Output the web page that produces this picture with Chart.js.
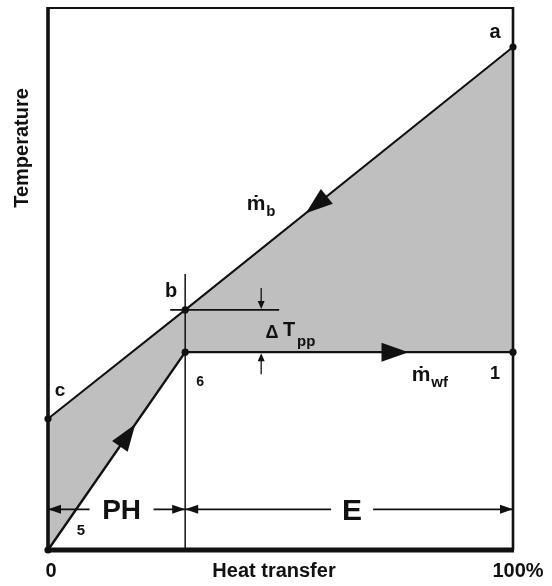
<!DOCTYPE html>
<html>
<head>
<meta charset="utf-8">
<script src="https://cdn.jsdelivr.net/npm/chart.js@4/dist/chart.umd.min.js"></script>
<style>
  html, body { margin: 0; padding: 0; background: #ffffff; }
  canvas { display: block; }
</style>
</head>
<body>
<canvas id="tq" width="552" height="586"></canvas>
<script>
// Heat-transfer share (%) at the three state points of each stream
const heatShare = [0, 29.5, 100];
// Heat-source stream temperatures: c, b (pinch), a
const hotTemp = [24.2, 44.3, 92.8];
const hotNames = ['c', 'b', 'a'];
// Working-fluid temperatures: 5, 6, 1
const coldTemp = [0, 36.5, 36.5];
const coldNames = ['5', '6', '1'];
// Axis end labels
const axisTicks = ['0', '100%'];
// Heat-exchanger sections: preheater and evaporator
const zoneNames = ['PH', 'E'];

const FONT = '"Liberation Sans", Arial, Helvetica, sans-serif';
const INK = '#111111';

function pts(xs, ys) { return xs.map((x, i) => ({ x: x, y: ys[i] })); }

function font(ctx, size) { ctx.font = 'bold ' + size + 'px ' + FONT; }

function text(ctx, str, x, y, size, align) {
  font(ctx, size);
  ctx.textAlign = align || 'center';
  ctx.textBaseline = 'middle';
  ctx.fillText(str, x, y);
}

function line(ctx, x1, y1, x2, y2, w) {
  ctx.lineWidth = w;
  ctx.beginPath();
  ctx.moveTo(x1, y1);
  ctx.lineTo(x2, y2);
  ctx.stroke();
}

// filled arrowhead with its tip at (x, y), pointing along angle ang
function head(ctx, x, y, ang, len, half) {
  const c = Math.cos(ang), s = Math.sin(ang);
  ctx.beginPath();
  ctx.moveTo(x, y);
  ctx.lineTo(x - len * c - half * s, y - len * s + half * c);
  ctx.lineTo(x - len * c + half * s, y - len * s - half * c);
  ctx.closePath();
  ctx.fill();
}

// flow arrow centred at fraction t of the segment p -> q
function flowArrow(ctx, p, q, t) {
  const ang = Math.atan2(q.y - p.y, q.x - p.x);
  const cx = p.x + (q.x - p.x) * t, cy = p.y + (q.y - p.y) * t;
  const len = 27;
  head(ctx, cx + Math.cos(ang) * len / 2, cy + Math.sin(ang) * len / 2, ang, len, 9.5);
}

// "m-dot" flow label with subscript
function flowLabel(ctx, x, y, sub) {
  text(ctx, '\u1E41', x, y, 21, 'center');
  font(ctx, 21);
  const w = ctx.measureText('\u1E41').width;
  text(ctx, sub, x + w / 2 + 1, y + 8, 15, 'left');
}

// dimension line with outward arrowheads and a caption in a gap
function dimension(ctx, x1, x2, y, label, size, gapHalf, shift) {
  const labelX = (x1 + x2) / 2 + shift;
  line(ctx, x1, y, labelX - gapHalf, y, 1.6);
  line(ctx, labelX + gapHalf, y, x2, y, 1.6);
  head(ctx, x1, y, Math.PI, 13, 4.5);
  head(ctx, x2, y, 0, 13, 4.5);
  text(ctx, label, labelX, y + 2, size, 'center');
}

const diagram = {
  id: 'diagram',
  afterDatasetsDraw(chart) {
    const ctx = chart.ctx;
    const xs = chart.scales.x, ys = chart.scales.y;
    const area = chart.chartArea;
    const P = (x, y) => ({ x: xs.getPixelForValue(x), y: ys.getPixelForValue(y) });
    const hot = heatShare.map((x, i) => P(x, hotTemp[i]));
    const cold = heatShare.map((x, i) => P(x, coldTemp[i]));

    ctx.save();
    ctx.strokeStyle = INK;
    ctx.fillStyle = INK;
    ctx.lineCap = 'butt';

    // frame
    line(ctx, area.left, area.top, area.right, area.top, 2.2);
    line(ctx, area.right, area.top - 1, area.right, area.bottom, 2.6);
    line(ctx, area.left, area.top - 1, area.left, area.bottom + 2, 3.6);
    line(ctx, area.left - 2, area.bottom, area.right + 1, area.bottom, 5);

    // section divider through the pinch
    const pinch = hot[1];
    line(ctx, pinch.x, pinch.y - 36, pinch.x, area.bottom, 1.5);

    // pinch reference line and delta-T arrows
    line(ctx, pinch.x - 15, pinch.y, pinch.x + 94, pinch.y, 1.6);
    const ax = pinch.x + 76;
    line(ctx, ax, pinch.y - 22, ax, pinch.y - 6, 1.3);
    head(ctx, ax, pinch.y - 1, Math.PI / 2, 8, 3.5);
    line(ctx, ax, cold[1].y + 22, ax, cold[1].y + 6, 1.3);
    head(ctx, ax, cold[1].y + 1, -Math.PI / 2, 8, 3.5);

    // flow direction arrows
    flowArrow(ctx, hot[2], hot[1], 0.6);
    flowArrow(ctx, cold[0], cold[1], 0.58);
    flowArrow(ctx, cold[1], cold[2], 0.64);

    // state point names
    text(ctx, hotNames[2], hot[2].x - 18, hot[2].y - 15, 20);
    text(ctx, hotNames[1], hot[1].x - 14, hot[1].y - 18, 20);
    text(ctx, hotNames[0], hot[0].x + 12, hot[0].y - 28, 19);
    text(ctx, coldNames[0], cold[0].x + 33, cold[0].y - 19, 15);
    text(ctx, coldNames[1], cold[1].x + 15, cold[1].y + 30, 14);
    text(ctx, coldNames[2], cold[2].x - 18, cold[2].y + 22, 18);

    // stream labels
    flowLabel(ctx, 256, 204, 'b');
    flowLabel(ctx, 421, 375, 'wf');

    // pinch temperature difference
    text(ctx, '\u0394', 272, 333, 18, 'center');
    text(ctx, 'T', 289, 330, 20, 'center');
    text(ctx, 'pp', 297, 342, 15, 'left');

    // section dimensions
    const dimY = ys.getPixelForValue(7.5);
    dimension(ctx, area.left, pinch.x, dimY, zoneNames[0], 28, 32, 5);
    dimension(ctx, pinch.x, area.right, dimY, zoneNames[1], 30, 21, 3);

    // axis captions
    text(ctx, axisTicks[0], area.left + 3, 571, 20, 'center');
    text(ctx, axisTicks[1], area.right + 5, 571, 20, 'center');
    text(ctx, 'Heat transfer', 274, 571, 20, 'center');
    ctx.save();
    ctx.translate(22, 148);
    ctx.rotate(-Math.PI / 2);
    text(ctx, 'Temperature', 0, 0, 20, 'center');
    ctx.restore();

    ctx.restore();
  }
};

new Chart(document.getElementById('tq'), {
  type: 'line',
  data: {
    datasets: [
      {
        label: 'Heat source',
        data: pts(heatShare, hotTemp),
        borderColor: INK,
        borderWidth: 2,
        pointRadius: 3.6,
        pointBackgroundColor: INK,
        pointBorderWidth: 0,
        fill: { target: 1 },
        backgroundColor: '#bfbfbf',
        tension: 0,
        clip: false
      },
      {
        label: 'Working fluid',
        data: pts(heatShare, coldTemp),
        borderColor: INK,
        borderWidth: 2.4,
        pointRadius: 3.6,
        pointBackgroundColor: INK,
        pointBorderWidth: 0,
        fill: false,
        tension: 0,
        clip: false
      }
    ]
  },
  options: {
    responsive: false,
    animation: false,
    layout: { padding: { left: 48, right: 39, top: 8, bottom: 36 } },
    plugins: {
      legend: { display: false },
      tooltip: { enabled: false },
      filler: { drawTime: 'beforeDatasetsDraw' }
    },
    scales: {
      x: { type: 'linear', min: 0, max: 100, display: false },
      y: { type: 'linear', min: 0, max: 100, display: false }
    }
  },
  plugins: [diagram]
});
</script>
</body>
</html>
